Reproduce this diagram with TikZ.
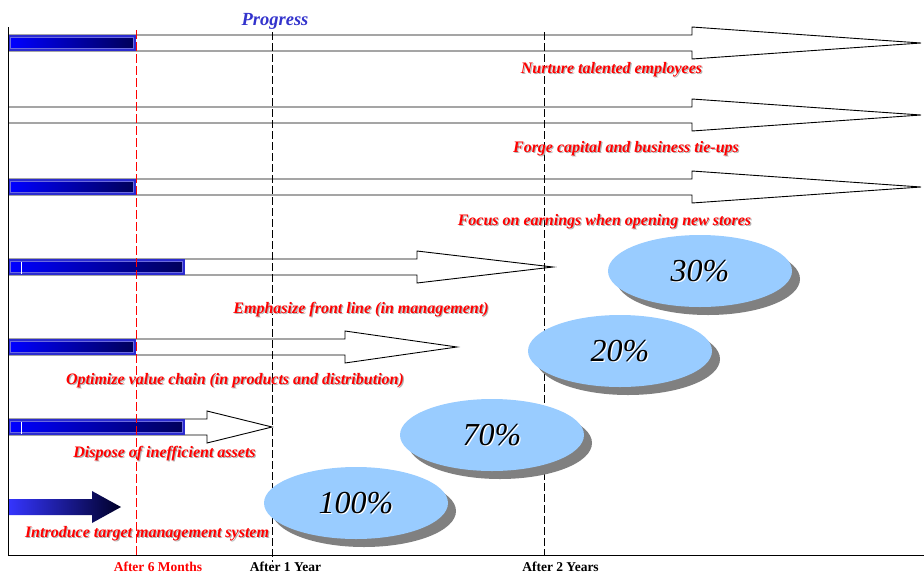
\documentclass[tikz,border=0pt]{standalone}
\usepackage{fontspec}
\setmainfont{Liberation Serif}
\usetikzlibrary{shapes.geometric,shadows}

\definecolor{goalred}{HTML}{FF0000}
\definecolor{progblue}{HTML}{3333CC}
\definecolor{bubble}{HTML}{99CCFF}
\definecolor{bubbleshade}{HTML}{808080}
\definecolor{barrim}{HTML}{2B2BD0}
\definecolor{barlight}{HTML}{0000FF}
\definecolor{bardark}{HTML}{00005A}
\definecolor{launchlight}{HTML}{3535FF}
\definecolor{launchdark}{HTML}{000028}

% a finished portion of a stage, drawn over the left end of its arrow
\newcommand\donebar[2]{%
  \fill[barrim] (8,#1) rectangle (#2,{#1+16});
  \shade[left color=barlight, right color=bardark, draw=barrim!70!white, line width=0.5pt]
    (10.5,{#1+2.5}) rectangle ({#2-2.5},{#1+13.5});
}
% a red goal caption with its faint drop shadow
\newcommand\goallabel[4]{%
  \node[goal, text=black!30] at ({#2+1.2},{#3+1.2}) {#4};
  \node[goal] (#1) at (#2,#3) {#4};
}
% a share bubble with its shadow and an embossed figure
\newcommand\sharebubble[4]{%
  \node[share] (#1) at (#2,#3) {};
  \node[sharetext, text=white] at ({#2+1.3},{#3+1.3}) {#4};
  \node[sharetext] at (#1.center) {#4};
}

\begin{document}
\begin{tikzpicture}[x=1pt,y=-1pt,
  stage/.style={draw=black, fill=white, line width=0.9pt, line join=miter},
  goal/.style={font=\bfseries\itshape\fontsize{16}{18}\selectfont, text=goalred, inner sep=0pt, anchor=base},
  milestone/.style={font=\bfseries\fontsize{13.5}{15}\selectfont, inner sep=0pt, anchor=base},
  blackmark/.style={draw=black, line width=0.9pt, dash pattern=on 8pt off 3pt},
  redmark/.style={draw=goalred, line width=0.9pt, dash pattern=on 9pt off 3pt},
  share/.style={ellipse, fill=bubble, minimum width=184pt, minimum height=72pt, inner sep=0pt,
    general shadow={fill=bubbleshade, shadow xshift=8pt, shadow yshift=-8pt}},
  sharetext/.style={font=\itshape\fontsize{32}{34}\selectfont, inner sep=0pt},
]
\useasboundingbox (0,0) rectangle (924,574);

% stage arrows: shaft from the axis, head, tip
\draw[stage] (8,35) -- (692,35) -- (692,27) -- (921,43) -- (692,59) -- (692,51) -- (8,51);
\draw[stage] (8,107) -- (692,107) -- (692,99) -- (921,115) -- (692,131) -- (692,123) -- (8,123);
\draw[stage] (8,179) -- (692,179) -- (692,171) -- (921,187) -- (692,203) -- (692,195) -- (8,195);
\draw[stage] (8,259) -- (417,259) -- (417,251) -- (553,267) -- (417,283) -- (417,275) -- (8,275);
\draw[stage] (8,339) -- (345,339) -- (345,331) -- (457,347) -- (345,363) -- (345,355) -- (8,355);
\draw[stage] (8,419) -- (207,419) -- (207,411) -- (272,427) -- (207,443) -- (207,435) -- (8,435);

% finished portions
\donebar{35}{136}
\donebar{179}{136}
\donebar{259}{185}
\donebar{339}{136}
\donebar{419}{185}
\draw[white, line width=0.8pt] (21.5,261.5) -- (21.5,273.5);
\draw[white, line width=0.8pt] (21.5,421.5) -- (21.5,433.5);

% completed first stage
\shade[left color=launchlight, right color=launchdark]
  (8,499) -- (92,499) -- (92,491) -- (121,507) -- (92,523) -- (92,515) -- (8,515) -- cycle;

% axes
\coordinate (top) at (8,27);
\coordinate (origin) at (8,555);
\coordinate (right) at (924,555);
\draw[line width=0.9pt] (top) -- (origin) -- (right);

% milestone lines
\coordinate (m6a) at (136,30);  \coordinate (m6b) at (136,555);
\coordinate (y1a) at (272,32);  \coordinate (y1b) at (272,562);
\coordinate (y2a) at (544,32);  \coordinate (y2b) at (544,555);
\draw[redmark] (m6a) -- (m6b);
\draw[blackmark] (y1a) -- (y1b);
\draw[blackmark] (y2a) -- (y2b);

% share bubbles
\sharebubble{s100}{356}{503}{100\%}
\sharebubble{s70}{492}{435}{70\%}
\sharebubble{s20}{620}{351}{20\%}
\sharebubble{s30}{700}{271}{30\%}

% captions
\node[font=\bfseries\itshape\fontsize{18.5}{20}\selectfont, text=progblue, inner sep=0pt, anchor=base] (progress) at (275,25) {Progress};
\goallabel{nurture}{611.5}{73}{Nurture talented employees}
\goallabel{forge}{626}{152}{Forge capital and business tie-ups}
\goallabel{focus}{604.5}{225}{Focus on earnings when opening new stores}
\goallabel{front}{361}{313}{Emphasize front line (in management)}
\goallabel{chain}{235}{384}{Optimize value chain (in products and distribution)}
\goallabel{assets}{164.5}{457}{Dispose of inefficient assets}
\goallabel{target}{147}{537}{Introduce target management system}

\node[milestone, text=goalred] (l6) at (158,571.5) {After 6 Months};
\node[milestone] (l1) at (285.5,571.5) {After 1 Year};
\node[milestone] (l2) at (560.5,571.5) {After 2 Years};
\end{tikzpicture}
\end{document}
